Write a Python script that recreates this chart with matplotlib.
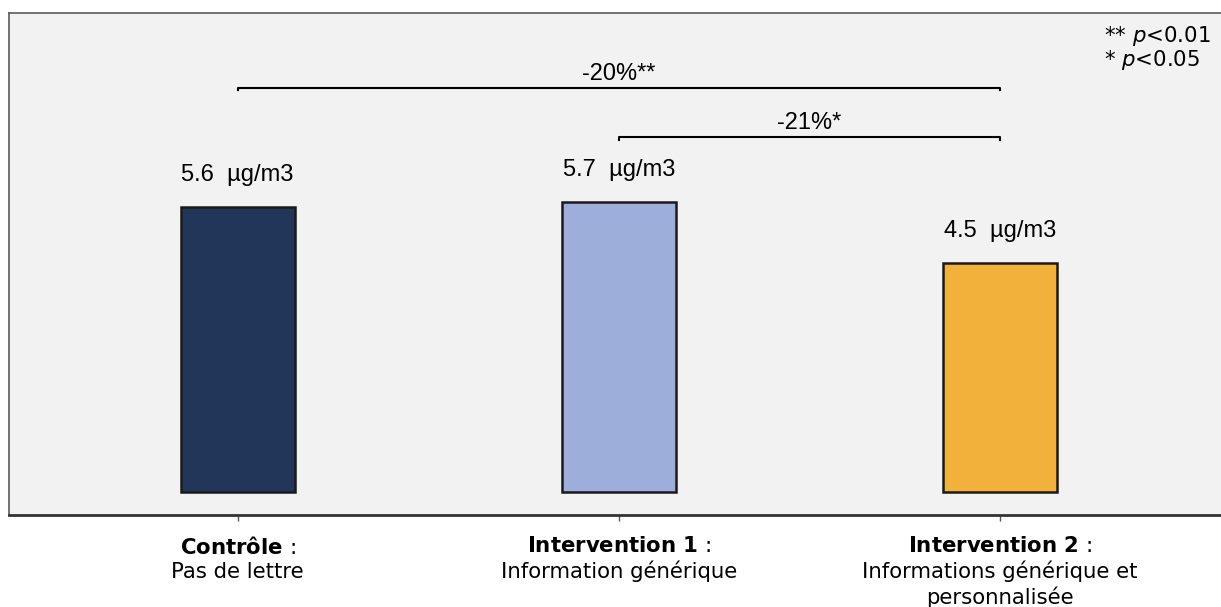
import matplotlib.pyplot as plt

# data
groups = ["$\\mathbf{Contrôle}$ :\nPas de lettre",
          "$\\mathbf{Intervention\\ 1}$ :\nInformation générique",
          "$\\mathbf{Intervention\\ 2}$ :\nInformations générique et\npersonnalisée"]
values = [5.6, 5.7, 4.5]
value_labels = ["5.6  µg/m3", "5.7  µg/m3", "4.5  µg/m3"]
colors = ["#22365a", "#9eaedb", "#f2b13a"]

# significance brackets: (from, to, height, label)
brackets = [(0, 2, 7.94, "-20%**"), (1, 2, 6.97, "-21%*")]
sig_notes = ["** $\\mathit{p}$<0.01", "* $\\mathit{p}$<0.05"]

plt.rcParams['mathtext.fontset'] = 'dejavusans'

fig = plt.figure(figsize=(12.21, 6.07), dpi=100)
ax = fig.add_axes([9/1221, 92/607, 1 - 9/1221, 502/607])
ax.set_facecolor("#f2f2f2")

x = range(len(values))
ax.bar(x, values, width=0.30, color=colors, edgecolor="#1a1a1a", linewidth=1.8)

for i, v in enumerate(values):
    ax.text(i, v + 0.62, value_labels[i], ha='center', va='center',
            fontsize=17, family='Liberation Sans')

for a, b, h, lab in brackets:
    ax.plot([a, a, b, b], [h - 0.05, h, h, h - 0.05], color='black', lw=1.5)
    ax.text((a + b) / 2, h + 0.28, lab, ha='center', va='center',
            fontsize=17, family='Liberation Sans')

# p-value notes, top right
ax.text(0.9035, 0.931, "\n".join(sig_notes), transform=ax.transAxes,
        ha='left', va='center', fontsize=15.3, family='DejaVu Sans',
        linespacing=1.0)

ax.set_xlim(-0.6, 2.58)
ax.set_ylim(-0.45, 9.41)
ax.set_yticks([])
ax.set_xticks(list(x))
ax.set_xticklabels(groups, fontsize=15.3, family='DejaVu Sans',
                   multialignment='center', linespacing=1.25)
ax.tick_params(axis='x', length=4, width=1, color='#555555', pad=11)

for s in ['left', 'top']:
    ax.spines[s].set_color('#5a5a5a')
    ax.spines[s].set_linewidth(1.2)
ax.spines['right'].set_visible(False)
ax.spines['bottom'].set_color('#333333')
ax.spines['bottom'].set_linewidth(2)

fig.savefig("out.png", dpi=100, facecolor='white')
